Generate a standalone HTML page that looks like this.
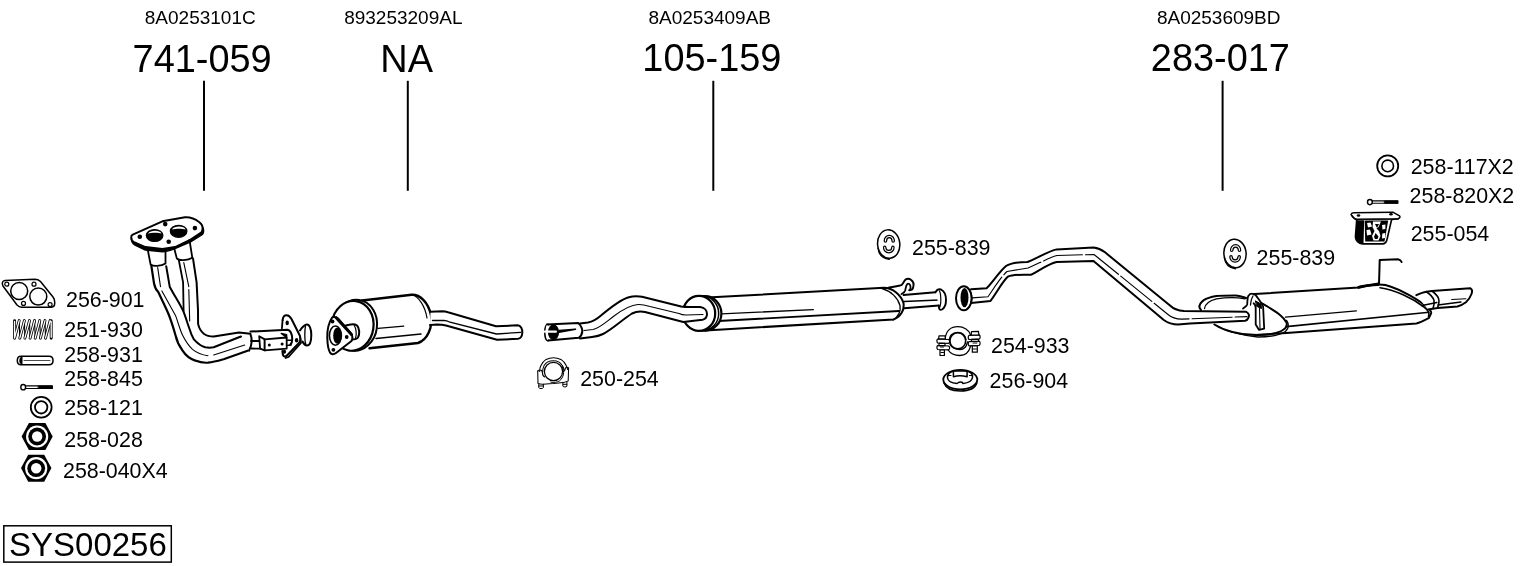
<!DOCTYPE html>
<html><head><meta charset="utf-8">
<style>
html,body{margin:0;padding:0;background:#fff;width:1530px;height:566px;overflow:hidden}
svg{display:block;will-change:transform}
text{font-family:"Liberation Sans",sans-serif;fill:#000}
.s{font-size:19px}
.b{font-size:37.9px}
.l{font-size:21.4px}
</style></head><body>
<svg width="1530" height="566" viewBox="0 0 1530 566">
<g text-anchor="middle">
<text class="s" x="200.25" y="23.9">8A0253101C</text>
<text class="b" x="202.15" y="71.6">741-059</text>
<text class="s" x="403.3" y="23.9">893253209AL</text>
<text class="b" x="406.6" y="72">NA</text>
<text class="s" x="709.75" y="23.9">8A0253409AB</text>
<text class="b" x="711.85" y="71.4">105-159</text>
<text class="s" x="1218.7" y="23.9">8A0253609BD</text>
<text class="b" x="1220.4" y="71.4">283-017</text>
</g>
<g stroke="#000" stroke-width="2" fill="none">
<line x1="204" y1="80.8" x2="204" y2="190.8"/>
<line x1="407.8" y1="80.8" x2="407.8" y2="190.8"/>
<line x1="713.3" y1="80.8" x2="713.3" y2="190.8"/>
<line x1="1222.6" y1="80.8" x2="1222.6" y2="190.8"/>
</g>
<g>
<text class="l" x="66" y="306.5">256-901</text>
<text class="l" x="64.3" y="336.8">251-930</text>
<text class="l" x="64.3" y="361.7">258-931</text>
<text class="l" x="64.3" y="386">258-845</text>
<text class="l" x="64.3" y="414.7">258-121</text>
<text class="l" x="64.3" y="446.9">258-028</text>
<text class="l" x="63" y="478.4">258-040X4</text>
<text class="l" x="580.2" y="385.7">250-254</text>
<text class="l" x="912" y="255">255-839</text>
<text class="l" x="991" y="352.9">254-933</text>
<text class="l" x="989.6" y="387.6">256-904</text>
<text class="l" x="1256.6" y="264.8">255-839</text>
<text class="l" x="1410.7" y="173.9">258-117X2</text>
<text class="l" x="1409.6" y="203">258-820X2</text>
<text class="l" x="1410.7" y="240.7">255-054</text>
</g>
<rect x="3.8" y="525.8" width="167.5" height="36.3" fill="none" stroke="#000" stroke-width="1.5"/>
<text x="9" y="556" style="font-size:33px">SYS00256</text>

<g fill="none" stroke="#000" stroke-linecap="round" stroke-linejoin="round">
<!-- flange thickness (black) -->
<path d="M131.3,237.5 C131,241 132,243.5 135,245 L145.4,250 L162.4,251.8 C167,251.6 171,250 175,248.6 L190.6,241.8 L202.5,234.5 C204,232 204,229.5 202.6,227 L201.5,232 L190.6,239.2 L175.1,246.8 L162.4,248.8 L145.4,246.8 L134,241.8 Z" fill="#000" stroke-width="1.4"/>
<!-- flange top face -->
<path d="M131.3,237.5 C131,236 131.5,235.3 132.7,234.7 L162.4,221.3 L185,217.3 C190,217 195,218.8 199.1,222 C201,223.5 202.6,225 202.6,227.5 C202.6,230 202,231.5 201.5,232.3 L190.6,239.5 L175.1,247 L162.4,249 L145.4,247 L134,242 C132,241 131.3,239 131.3,237.5 Z" fill="#fff" stroke-width="1.9"/>
<!-- holes -->
<ellipse cx="154.6" cy="235.5" rx="8.3" ry="6" fill="#000" stroke-width="1.2"/>
<path d="M148,233.8 C149.3,231.6 152,230.8 155,230.8 C158,230.8 160.8,231.8 161.5,233.6 C158.5,232.6 151,232.6 148,233.8 Z" fill="#fff" stroke="none"/>
<ellipse cx="178.6" cy="231.3" rx="8.3" ry="6" fill="#000" stroke-width="1.2"/>
<path d="M172,229.6 C173.3,227.4 176,226.6 179,226.6 C182,226.6 184.8,227.6 185.5,229.4 C182.5,228.4 175,228.4 172,229.6 Z" fill="#fff" stroke="none"/>
<circle cx="139.8" cy="236.8" r="2.3" fill="#000" stroke="none"/>
<circle cx="165.2" cy="224.1" r="2.3" fill="#000" stroke="none"/>
<circle cx="194.9" cy="228.1" r="2.3" fill="#000" stroke="none"/>
<circle cx="168.7" cy="241.8" r="2.3" fill="#000" stroke="none"/>
<!-- collars -->
<path d="M147.8,250 L150.6,264.5 C153,266.5 161,266.5 165.5,263.5 L165.5,250" stroke-width="1.8"/>
<path d="M174,247.5 L176.8,258.4 C179,261 188,260.5 192.3,257.7 L189.5,240" stroke-width="1.8"/>
<!-- pipe A left outer edge -->
<path d="M151.3,265.5 L154.1,283.8 C155,288 157,291 158.4,292.3 C162,300 166,308 168.5,314 C171,320 174,330 175.5,335.2 C177,342 180,347 182.6,350.7 C186,356 190,359 195.3,360.6 C200,362.5 204,363 208,362.7 C214,362 219,360.5 223.6,359.2 L247.6,350.7" stroke-width="2.2"/>
<!-- pipe A right edge / crease -->
<path d="M166.2,266.2 L169.7,286.7 C174,295 180,304 183.3,311.2 C186,318 188,325 189.7,329.5 C191,334 192.5,337 193.9,339.4 C197,343 201,346 205.2,347.2 C208,347.8 211,347.8 213.7,347.2 L239,337.3 L241,336.5" stroke-width="2"/>
<!-- pipe B left edge -->
<path d="M178.9,260.5 L183.1,282.4 L183.6,311" stroke-width="1.8"/>
<!-- pipe B right edge -->
<path d="M193,258.4 L196.6,282.4 L198,310 L198.1,323.9 C199,328 201,331.5 203.8,333.8 C206,335.5 210,336.6 213.7,336.6 L239,332.4 L250.4,333.8 C252,338 252,345 249,350.7" stroke-width="2"/>
<!-- highlights -->
<path d="M157.7,267.6 L160.5,286.7 M161.9,290.9 L175.5,315.4 C178,322 180,330 182.6,335.2 C186,342 189,346 192.5,349.3 C197,353 203,355 208,355.7 M213.7,355 L244.7,345.1" stroke-width="1.1"/>
<path d="M183.8,262.6 L188.8,286.7 M188.8,289.5 L189.7,321" stroke-width="1.1"/>
<path d="M230,341 C234,339 238,337 240,337" stroke-width="1.2"/>
<!-- small pipe / bracket -->
<path d="M251,341 L259.2,341 M251.5,348.5 L260.1,348.6" stroke-width="1.8"/>
<path d="M250.5,331.6 L287.6,329.7 C290.5,330.5 292,334 292.2,338.5 C292.3,341 291.5,343.5 290.4,344.5" fill="#fff" stroke-width="2"/>
<path d="M259.2,336.2 L264.7,339.4 L264.7,350.4 L260.1,348.6 Z" fill="#fff" stroke-width="1.8"/>
<path d="M264.7,339.4 L286.7,337.5 L286.7,348.6 L264.7,350.4 Z" fill="#fff" stroke-width="1.8"/>
<path d="M281.2,333.4 L286.7,334.5 L286.7,337.5 Z" fill="#000" stroke-width="1.2"/>
<path d="M286.7,340.3 L291.3,340.3 M286.7,345.4 L291.3,344.9" stroke-width="1.5"/>
<circle cx="269.3" cy="344.9" r="1.5" fill="#000" stroke="none"/>
<circle cx="282.1" cy="344" r="1.5" fill="#000" stroke="none"/>
<!-- flange -->
<path d="M282.6,320.1 C283,316 285,315 287,315.3 C289,315.5 290,316.5 291.5,319 L300,336 C301,338.5 300.5,341.5 298.5,343.5 L287,355.5 C285.5,357 283.5,357.2 282.8,354.5 L282.4,351" stroke-width="2"/>
<path d="M282.6,320.1 L281.9,328.4" stroke-width="1.8"/>
<path d="M300,337 L301,343 L288.5,357 L285.5,358" stroke-width="1.8"/>
<ellipse cx="287.2" cy="322.9" rx="1.7" ry="2.3" fill="#000" stroke="none"/>
<ellipse cx="296.6" cy="340.3" rx="1.7" ry="2.3" fill="#000" stroke="none"/>
<ellipse cx="284.4" cy="351.8" rx="1.7" ry="2" fill="#000" stroke="none"/>
<!-- end flare -->
<path d="M300,330.5 C302,327.5 304,325 306.5,324.5 C309.5,324 311.3,329 311.3,335 C311.3,341 309.8,345.5 307,345.5 C305,345.5 303.5,343.5 302.5,341.5" fill="#fff" stroke-width="2"/>
<path d="M305.5,326 C304.5,331 304.5,340 305.8,344.5" stroke-width="1.3"/>
</g>

<g fill="none" stroke="#000" stroke-linecap="round" stroke-linejoin="round">
<!-- body -->
<path d="M362,300.5 L411.7,294.8 C420,294.5 428,302 431,315 C433,328 427,340 418,343 L369.5,348.3" fill="#fff" stroke-width="2.4"/>
<path d="M378,328.3 L403.8,326.1" stroke-width="1.2"/>
<path d="M376,338.5 L421,334" stroke-width="1.5"/>
<path d="M411.7,294.3 C419,297 425,306 427,318" stroke-width="1.2"/>
<!-- front face rim (double ellipse) -->
<ellipse cx="355.5" cy="325.3" rx="21.5" ry="25.5" transform="rotate(8 355.5 325.3)" fill="#fff" stroke-width="2"/>
<ellipse cx="352.5" cy="325.8" rx="21" ry="25" transform="rotate(8 352.5 325.8)" fill="#fff" stroke-width="2.2"/>
<!-- stub pipe -->
<path d="M344,326 L349,324.8 C352,324 355,324 357,325.5 C359.5,328 360,334 358,337.5 C357,339 355,339.5 352,339.5 L346,340" fill="#fff" stroke-width="2"/>
<path d="M354,325 C356,328 357,334 355.5,338.5" stroke-width="1.2"/>
<!-- triangular flange -->
<path d="M332.1,317.5 C334,316.3 336,317 338,318.5 L350.5,333 C352.5,335.5 353,338.5 351.5,341 L336,353 C333.5,355 331,354.5 330,352.5 C328.5,350 327.5,345 327.3,338 C327,330 328.5,323 332.1,317.5 Z" fill="#fff" stroke-width="2"/>
<path d="M336,317.5 L351.5,334.5" stroke-width="3"/>
<ellipse cx="335.4" cy="335.6" rx="6" ry="9.6" fill="#fff" stroke-width="1.6"/>
<ellipse cx="337.4" cy="335.6" rx="4.2" ry="8.2" fill="#000" stroke="none"/>
<circle cx="332.5" cy="321.5" r="1.9" fill="#000" stroke="none"/>
<circle cx="346.7" cy="337" r="1.9" fill="#000" stroke="none"/>
<circle cx="333.4" cy="349.8" r="1.9" fill="#000" stroke="none"/>
<!-- outlet pipe -->
<path d="M430.5,311.8 L442,311.3 C444.5,311.3 446,311.5 448,312.3 L496,326.3 L517.5,325.3 C521,325.3 522.5,329 522.3,333 C522,336.5 520.5,338.5 518,338.8 L497,339.7 L446,325.5 C443,324.8 440,324.6 437,324.6 L430,325" fill="#fff" stroke-width="2"/>
<path d="M432.5,320.5 L444,320.3 C446,320.5 447.5,321 449,321.8 L496.5,334 L520.8,332.3" stroke-width="1.3"/>
</g>

<g fill="none" stroke="#000" stroke-linecap="round" stroke-linejoin="round">
<!-- muffler body -->
<path d="M712,297.3 L883.8,287.8 C893,288 901,295 903.5,303 C904.5,310 901,316.5 893.5,319.5 L705.5,330.4" fill="#fff" stroke-width="2"/>
<path d="M721.4,313.9 L813.3,309.6" stroke-width="1.3"/>
<path d="M718.5,321 L899,311" stroke-width="1.8"/>
<path d="M882,288.5 C891,291 898,298 900,305.5 C901,312 898,317 893,320" stroke-width="1.3"/>
<!-- outlet pipe -->
<path d="M903.5,295 L935.5,292.3 M904,308.3 L939,305.5" stroke-width="1.9"/>
<path d="M904,301.5 L939,300" stroke-width="1.4"/>
<path d="M935.5,292.3 C937,289.5 939,289 941,289.5 C944,291 946,295 946,300 C946,304.5 944.5,308 942,309.5 C940,310.5 938.5,309.5 939,305.5" fill="#fff" stroke-width="1.9"/>
<path d="M939.5,291 C941,294 941.5,304 939.5,308" stroke-width="1.2"/>
<!-- hanger hook -->
<path d="M889,287.5 C894,286.5 899,286 901.8,284.8 C903.5,283.5 904,280.5 905.8,279.3 C907.5,278.5 909.5,278.7 911,279.8 C913.5,281.5 914,285 913,288 C912.5,289.5 911,290.3 909.2,290.3" stroke-width="2"/>
<path d="M901.5,294 C903.5,293 904.8,292 905.2,290.5 C905.8,287.5 906,285 907.3,284 C908.8,283 910.3,284.5 910.5,286.5 C910.7,288 910.5,289 910,289.5" stroke-width="1.8"/>
<!-- front ring -->
<ellipse cx="705" cy="313.4" rx="16.4" ry="17.2" fill="#fff" stroke-width="2.2"/>
<ellipse cx="702.5" cy="313.4" rx="16.2" ry="17.3" fill="#fff" stroke-width="1.5"/>
<ellipse cx="699" cy="313.4" rx="16.2" ry="17.5" fill="#fff" stroke-width="2.2"/>
<!-- pipe -->
<path d="M580,323.5 L588,322.5 C593,321.5 597,319 601,315.5 C610,308 620,300 628,297.5 C633,296 638,296 642,296.8 L681.2,306.5 C684,307 687,307 690,307 L700.3,307 C704.5,307.5 707,310.5 707,314 C707,317 705.5,319 702.5,319.8 L683.3,322 L645,312 C640,311 636,311.5 632,313.5 C622,320 611,330 603,334 C600,335.5 596,336.5 592,337 L580,338.5" fill="#fff" stroke-width="2"/>
<path d="M584,330.5 L593,329.5 C600,328 606,322 614,316 C622,310 630,305 638,304.5 C642,304.3 645,305 650,306.5 L679,313.5 C681,314.5 683,315 686,315 L703,314.5" stroke-width="1.1"/>
<!-- sleeve -->
<path d="M546.9,324.5 L578.2,323 C581.5,325.5 582.5,330 582.3,331.5 C582,334 581,336.5 578.7,337.8 L548,340.5" fill="#fff" stroke-width="2"/>
<path d="M548,324.5 C544,325 544,340 548,340.5" fill="#fff" stroke-width="2"/>
<ellipse cx="553.5" cy="332.3" rx="5.6" ry="7.8" fill="#000" stroke="none"/>
<path d="M547,326 C546,330 546,335 547.5,339" stroke="#fff" stroke-width="1.5"/>
<path d="M559,330.5 L575.5,329.3 L559,332.3 Z" fill="#000" stroke="#000" stroke-width="1.5"/>
<path d="M544.8,331.7 L555.9,331.7" stroke="#fff" stroke-width="2.2"/>
</g>

<g fill="none" stroke="#000" stroke-linecap="round" stroke-linejoin="round">
<!-- intermediate pipe -->
<path d="M971,289.3 L986.6,288.3 C993,282 999,272 1006,266 C1012,262 1020,262 1027.4,262 C1036,259 1046,252 1056.6,249.4 L1093.5,247.5 C1099,248 1102,250 1105,252.3 L1170,305.5 C1173,308.5 1177,310.5 1184,311 L1246.2,311.8 C1249,313 1249.5,316 1248.3,318 C1247.5,319.8 1246.5,320.5 1245.1,320.8 L1190,323.6 L1178,324.5 C1172,324.5 1168,323 1163.8,320 L1093.5,261.1 L1056.6,262 C1048,264 1040,270 1031.3,274.7 C1022,274.7 1014,274 1008,276.6 C1002,282 996,294 990.5,300.9 L971,302.9" fill="#fff" stroke-width="2"/>
<path d="M972,297.9 L988,296.7 C994,288 1000,278 1007,271.5 L1028,268 C1038,264 1048,258 1057,255.5 L1094,254.5 L1168,314.5 C1172,318 1176,319.2 1182,319.1 L1247,316.6" stroke-width="1.1" stroke-dasharray="40 3"/>
<!-- inlet flare -->
<ellipse cx="963.8" cy="298.3" rx="7.8" ry="12" fill="#fff" stroke-width="2"/>
<ellipse cx="964.5" cy="297.6" rx="4" ry="9.6" fill="#000" stroke="none"/>
<path d="M967,287.5 C970.5,290 972,295 971.8,299 C971.6,303 970,307 966.5,309.5" stroke-width="1.5"/>
<!-- rear muffler body -->
<path d="M1250.4,294.3 L1358.5,287.4 C1365,286 1372,285 1378.3,284.6 C1384,284.5 1388,285.5 1391,286.7 C1398,289 1404,292 1409.3,295.2 C1416,299 1422,302.5 1426.3,306.5 C1429,309 1431.5,311 1431.2,313 C1430.5,315.5 1429,317 1429.1,317.8 C1424,320.5 1420,322.5 1416.4,323.5 L1286.4,333 L1255,335" fill="#fff" stroke-width="2"/>
<path d="M1358.5,287.4 C1365,285.5 1372,284.8 1378.3,284.6" stroke-width="2.8"/>
<path d="M1380,287.8 C1395,290 1412,298 1424,307 C1428,310 1430,313 1428.5,316.5" stroke-width="1.6"/>
<path d="M1285.4,317.1 L1356.4,310.8" stroke-width="1.2"/>
<path d="M1286.4,326.6 L1429.1,312.2" stroke-width="1.6"/>
<!-- back arc of front ellipse (double rim) -->
<path d="M1246.2,298 C1240,295.6 1236,295.4 1235.6,295.4 C1228,295.4 1221,295.5 1216.5,295.9 C1210,297 1206,298.5 1203.8,300.1 C1200.5,302.5 1199,305 1199.5,307.6 L1201,310" stroke-width="2"/>
<path d="M1204.5,308.5 C1205,304.5 1208,301 1216.5,298.8 C1226,297.5 1236,297.2 1245,298.8" stroke-width="1.3"/>
<!-- lower arc of front ellipse -->
<path d="M1214.4,324.5 C1220,328 1226,330.5 1232.4,331.9 C1240,334 1249,335.2 1257.8,335.1 C1268,335 1278,333.5 1283.3,329.8 C1286.5,327.5 1287.5,325 1286.4,322.4 C1285,319.5 1283,317.5 1280,315 C1276,311.5 1271,309 1267.4,306.5 C1264,304.5 1262,303.3 1260,302.3" stroke-width="2"/>
<path d="M1218,326.5 C1226,331 1240,335 1257.8,337 C1270,337 1280,335 1285.5,331.5 C1289,328.5 1289,324 1286.5,320.5" stroke-width="1.4"/>
<!-- strap -->
<path d="M1243,308.6 C1245,307 1247,306 1247.2,304.4 C1247.5,300 1247.5,297.5 1248.3,295.9 C1249.5,294 1251,293.5 1252.5,293.8 C1255,294 1256.5,295.5 1257.8,298 C1260,301 1262,303.5 1263.1,306.5 L1264.2,328.7 L1258.9,329.8 L1255.7,324.5 L1255.7,307.6 C1255.5,305.5 1254.5,304 1253.6,303.3" fill="#fff" stroke-width="1.8"/>
<path d="M1250.5,305 C1251,300 1252,297.5 1253,296" stroke-width="1.3"/>
<path d="M1255.7,301 L1261,304 L1261.5,308.5 L1257,306.5 Z" fill="#000" stroke-width="1"/>
<path d="M1259.5,308 L1260,328.5" stroke-width="1.1"/>
<!-- hanger -->
<path d="M1359,287 C1366,285.5 1374,285 1379,283.2 C1379.3,276 1379.5,268 1379.7,259.9 L1398,259.2 C1399.5,259.5 1401,260.5 1401.6,262" stroke-width="2"/>
<!-- tailpipe -->
<path d="M1416.4,295.2 C1420,293.5 1423,292.2 1426.3,291.7 L1432,291 L1470.1,288.2 C1472.5,289.5 1472.5,291.5 1471.5,294 C1470,298 1468,300.5 1465.9,302.3 C1463,304.5 1460,306 1457.4,306.5 L1437.6,307.9 L1428,309.5" fill="#fff" stroke-width="2"/>
<path d="M1426.3,291.7 C1430,294 1433,297 1434,300.5 C1434.5,303.5 1434,306 1433,308.5" stroke-width="1.6"/>
<path d="M1432,291 C1436,294 1439,297.5 1439,300.9 C1439,303 1438.5,305.5 1437.6,307.5" stroke-width="1.6"/>
<path d="M1422,305.5 L1437,302.5 M1438,305 L1461,302" stroke-width="1.3"/>
<path d="M1451.7,299.5 L1465.9,298.7" stroke-width="1.1"/>
</g>

<g fill="none" stroke="#000" stroke-linecap="round" stroke-linejoin="round">
<!-- gasket 256-901 -->
<path d="M5,280.5 L34.6,279.3 C37,279.3 39,280 40.5,281.5 L53,297 C54.5,299 55,302 54.5,305 C54,306.5 53,307.2 51,307.2 L21.5,307.2 C19.5,307.2 18.5,306.5 17,305 L3,286 C1.5,283.5 2.5,280.6 5,280.5 Z" stroke-width="1.5"/>
<circle cx="19.2" cy="291" r="8.5" stroke-width="1.5"/>
<circle cx="38.3" cy="296.6" r="8.5" stroke-width="1.5"/>
<circle cx="6.8" cy="284.2" r="2" stroke-width="1.2"/>
<circle cx="34" cy="284.2" r="2" stroke-width="1.2"/>
<circle cx="23.5" cy="303.4" r="2" stroke-width="1.2"/>
<circle cx="50.1" cy="304.6" r="2" stroke-width="1.2"/>
<!-- spring 251-930 -->
<path d="M14.6,320.6 L14.6,338.2 M19.2,320.6 L19.8,338.2 M24.4,320.6 L24.9,338.2 M29.5,320.6 L30.0,338.2 M34.6,320.6 L35.2,338.2 M39.8,320.6 L40.4,338.2 M45.0,320.6 L45.5,338.2 M50.1,320.6 L50.6,338.2 M51.2,320.6 L51.2,338.2" stroke-width="1.1"/>
<path d="M14.6,338.2 L19.2,320.6 M19.8,338.2 L24.4,320.6 M24.9,338.2 L29.5,320.6 M30.1,338.2 L34.6,320.6 M35.2,338.2 L39.8,320.6 M40.4,338.2 L45.0,320.6 M45.5,338.2 L50.1,320.6 M14.6,320.6 L14.6,338.2 M51.2,320.6 L51.2,338.2" stroke-width="2.9"/>
<path d="M14.6,338.2 L19.2,320.6 M19.8,338.2 L24.4,320.6 M24.9,338.2 L29.5,320.6 M30.1,338.2 L34.6,320.6 M35.2,338.2 L39.8,320.6 M40.4,338.2 L45.0,320.6 M45.5,338.2 L50.1,320.6 M14.6,321.5 L14.6,337.3 M51.2,321.5 L51.2,337.3" stroke="#fff" stroke-width="1.3"/>
<!-- sleeve 258-931 -->
<path d="M21,356.3 L49,356.3 C52,356.3 53,358 53,360.5 C53,363 52,364.8 49,364.8 L21,364.8 C18.5,364.8 17.3,363 17.3,360.5 C17.3,358 18.5,356.3 21,356.3 Z" stroke-width="1.5"/>
<path d="M21,357 C19,357.5 18.5,363.5 21,364 L22.5,364 L22.5,357 Z" fill="#000" stroke="none"/>
<path d="M24,360.5 L50,360.5" stroke-width="0.7"/>
<!-- bolt 258-845 -->
<ellipse cx="23.2" cy="387.2" rx="2.4" ry="2.7" stroke-width="1.4"/>
<path d="M25.6,385.9 L52.3,385.9 M25.6,388.5 L52.3,388.5" stroke-width="1.1"/>
<path d="M38.5,386 L52.5,386 L52.5,388.4 L38.5,388.4 Z" fill="#000" stroke-width="0.9"/>
<!-- washer 258-121 -->
<circle cx="41.2" cy="407.3" r="10.4" stroke-width="1.8"/>
<circle cx="41.2" cy="407.3" r="6.2" stroke-width="1.8"/>
<!-- nut 258-028 -->
<path d="M21.6,436.4 L28.9,422.9 L45.4,422.9 L52.7,436.4 L45.4,450.1 L28.9,450.1 Z" fill="#000" stroke="none"/>
<circle cx="37.15" cy="436.5" r="11.1" fill="#fff" stroke="none"/>
<circle cx="37.15" cy="436.5" r="8.9" fill="#000" stroke="none"/>
<circle cx="37.15" cy="436.5" r="5.2" fill="#fff" stroke="none"/>
<!-- nut 258-040X4 -->
<path d="M21,468 L28.2,454.7 L44.2,454.7 L51.4,468 L44.2,481.8 L28.2,481.8 Z" fill="#000" stroke="none"/>
<circle cx="36.2" cy="468.2" r="11.1" fill="#fff" stroke="none"/>
<circle cx="36.2" cy="468.2" r="8.9" fill="#000" stroke="none"/>
<circle cx="36.2" cy="468.2" r="5.2" fill="#fff" stroke="none"/>
<!-- clamp 250-254 -->
<path d="M539.7,371.5 C539.5,369 540,367.5 540.7,366.1 C542,362.5 543.5,361 546.1,359.4 C548.5,358.2 551,357.7 553.5,357.7 C556,357.7 558.5,358.3 560.9,359.4 C563.5,361 565,363 566.2,365.4 C567,367 567.5,368.2 567.6,369.4" stroke-width="1.1"/>
<path d="M542.7,372.1 C542.7,369.5 543.2,367.3 544.1,365.4 C546,362.2 549.5,360.7 553.5,360.7 C557.5,360.7 560.5,362.5 562.2,365.4 C563.3,367 563.9,368.5 564.2,370.1" stroke-width="1.05"/>
<path d="M537.7,371.1 C539,370 540.5,369.8 541.8,370.5 L542.5,373 C542.5,375 543,376.5 545,377" stroke-width="1.05"/>
<path d="M568.6,368 C567.5,367.3 566,367.3 565.5,368 L564.5,371" stroke-width="1.05"/>
<path d="M537.7,371.1 L538,383.5 C540,384.2 542,384.3 543.4,384.2 C547,383.8 550,383.5 553.5,383.5 C557,383.3 561,382.8 564.2,382.2 C566,381.8 567.5,381.3 568.2,380.9 L568.6,368" stroke-width="1.05"/>
<circle cx="553.5" cy="371.5" r="9.1" fill="#fff" stroke-width="1.25"/>
<path d="M562.2,366.5 C563.5,369 563.8,372 563.5,374.1 C562.8,377 561.5,379.3 559.5,380.9 C557,382.3 554,382.8 550.8,382.2" stroke-width="1"/>
<path d="M538.8,384.3 L538.7,387.6 C539.5,388.9 542.5,388.9 543.4,387.6 L543.4,384.2 M539,386 L543,386" stroke-width="1"/>
<path d="M562.9,382.3 L562.9,386.2 C563.8,387.2 566,387.2 566.9,386.2 L566.9,381.6 M563,384.3 L566.8,384.3" stroke-width="1"/>
<!-- rubber 255-839 a -->
<ellipse cx="888.7" cy="244.1" rx="11.1" ry="14.3" transform="rotate(-6 888.7 244.1)" stroke-width="1.5"/>
<path d="M878.0,248.1 C878.7,254.1 882.2,258.6 889.2,259.4" stroke-width="1.3"/>
<path d="M885.4,240.9 A3.9,4.4 0 0 1 893.2,240.9 M884.7,247.4 A4.1,4.2 0 0 0 892.9,247.4" stroke-width="3.6"/>
<path d="M885.4,240.9 A3.9,4.4 0 0 1 893.2,240.9 M884.7,247.4 A4.1,4.2 0 0 0 892.9,247.4" stroke="#fff" stroke-width="1.2"/>
<!-- rubber 255-839 b -->
<ellipse cx="1235" cy="253.5" rx="11.1" ry="14.3" transform="rotate(-6 1235 253.5)" stroke-width="1.5"/>
<path d="M1224.3,257.5 C1225.0,263.5 1228.5,268.0 1235.5,268.8" stroke-width="1.3"/>
<path d="M1231.7,250.3 A3.9,4.4 0 0 1 1239.5,250.3 M1231.0,256.8 A4.1,4.2 0 0 0 1239.2,256.8" stroke-width="3.6"/>
<path d="M1231.7,250.3 A3.9,4.4 0 0 1 1239.5,250.3 M1231.0,256.8 A4.1,4.2 0 0 0 1239.2,256.8" stroke="#fff" stroke-width="1.2"/>
<!-- clamp 254-933 -->
<path d="M945.1,338.8 C946,331 951,326.7 957.8,326.7 C964,326.7 969,330 970.6,334.7" stroke-width="1.3"/>
<path d="M949.2,343 C949,335 952.5,332.3 957.8,332.3 C962,332.3 965,334.5 966,339.5" stroke-width="1.3"/>
<path d="M947.8,349.5 C950,353 955,355.5 959.8,355.5 C965,355.5 969,352 970.6,346.1" stroke-width="1.3"/>
<path d="M950,344.5 C952,348 956,349.5 960,349.5 C964,349.5 966.5,347 967.5,342" stroke-width="1.3"/>
<ellipse cx="957.8" cy="340.8" rx="7.9" ry="8" stroke-width="1.6"/>
<path d="M937.7,339 L948.6,339.5 C950,340.5 950,342.5 948.6,343.3 L937.7,343 C936.6,342 936.6,340 937.7,339 Z" fill="#fff" stroke-width="1.2"/>
<path d="M937.7,345.5 L948.6,346 C950,347 950,349 948.6,349.8 L937.7,349.5 C936.6,348.5 936.6,346.5 937.7,345.5 Z" fill="#fff" stroke-width="1.2"/>
<path d="M939,335.8 L945,335.8 L945.5,338.8 L938.6,338.8 Z M939,343.2 L945,343.4 L945,345.7 L939,345.6 Z M940,350 L944.4,350 L944.4,355.5 L940,355.5 Z" fill="#fff" stroke-width="1.2"/>
<path d="M940.5,347 L943.5,347 M941,352.5 L943.5,352.5" stroke-width="1"/>
<path d="M969,335.3 L979.3,334.8 C980.4,335.8 980.4,338 979.3,339 L969,339.5 C968,338.5 968,336.3 969,335.3 Z" fill="#fff" stroke-width="1.2"/>
<path d="M969,341.6 L979.3,341.1 C980.4,342.1 980.4,344.3 979.3,345.3 L969,345.8 C968,344.8 968,342.6 969,341.6 Z" fill="#fff" stroke-width="1.2"/>
<path d="M971.5,331.6 L978.5,331.4 L978.8,334.8 L971.2,335 Z M971.5,339.4 L978.5,339.2 L978.5,341.2 L971.5,341.4 Z M972.3,346 L977.3,345.8 L977.3,352.2 L972.3,352.2 Z" fill="#fff" stroke-width="1.2"/>
<path d="M973,343 L977,343 M973,349 L976.5,349" stroke-width="1"/>
<!-- gasket 256-904 -->
<ellipse cx="960.3" cy="379.6" rx="17" ry="9.8" stroke-width="1.8"/>
<path d="M944,383 C946,388.5 953,391 960.3,391 C968,391 975,388.5 976.8,383" stroke-width="1.6"/>
<path d="M947.5,378 C947,373.5 951,371.3 955,371 L965,371 C970,371.3 973,373.5 972.5,377.5 C972,381 967,383 963,383.5 L962,382.3 C961,382 959.5,382 958.5,382.5 L957,383.5 C953,383.2 948,381.5 947.5,378 Z" stroke-width="1.5"/>
<path d="M953.4,372 L953.4,376.7 C957,375.6 963,375.6 967.1,376.7 L967.1,372" stroke-width="1.5"/>
<path d="M948,375.5 L951,375.5 M969.5,375.5 L972,375.5" stroke-width="1.1"/>
<!-- washer 258-117X2 -->
<circle cx="1387.7" cy="165.9" r="10.5" stroke-width="1.8"/>
<circle cx="1387.7" cy="165.9" r="5.8" stroke-width="1.6"/>
<!-- bolt 258-820X2 -->
<ellipse cx="1369.9" cy="202.1" rx="2.4" ry="2.6" stroke-width="1.4"/>
<path d="M1372.3,200.9 L1397.9,200.9 M1372.3,203.3 L1397.9,203.3" stroke-width="1.1"/>
<path d="M1384.7,201 L1398,201 L1398,203.2 L1384.7,203.2 Z" fill="#000" stroke-width="0.9"/>
<!-- mount 255-054 -->
<path d="M1351,214.5 C1351.5,213.3 1352.5,212.8 1354,212.8 L1392.8,212.2 L1399.5,215.8 C1400.5,216.8 1400,218 1398.1,218.7 L1357.1,219.2 C1354.5,219 1352,216.5 1351,214.5 Z" fill="#fff" stroke-width="1.5"/>
<path d="M1352,215.5 C1353.5,218 1355.5,219.8 1357.5,220.3 L1392,219.6 L1398.5,218.8" stroke-width="1.4"/>
<path d="M1356.7,220 L1355.4,237 C1355.6,240.5 1358.5,243.5 1362.4,243.9 L1383,243.9 C1385.5,243.5 1386.5,242 1387,239.5 L1391.5,220" fill="#fff" stroke-width="1.6"/>
<path d="M1356.7,220.3 L1364.2,220.3 L1363.5,243.8 L1362.4,243.8 C1358.5,243.5 1355.6,240.5 1355.4,237 Z" fill="#000" stroke="none"/>
<path d="M1364.7,220.6 L1388.2,220.6 L1384.5,241.5 L1365.2,241.5 Z" fill="#000" stroke="none"/>
<path d="M1367,223 L1370.5,222.5 L1372,226.5 L1368,227.5 Z" fill="#fff" stroke="none"/>
<path d="M1366.5,230 L1370,229.5 L1371.5,234.5 L1367,235.5 Z" fill="#fff" stroke="none"/>
<path d="M1373,221.5 L1381,221.5 L1378.5,227 L1376.5,228.5 L1379,231 L1380.5,236 L1378.5,240.5 L1373.5,240.5 L1372,236 L1374.5,231 L1372.5,227 Z M1375,224 L1377,228 L1379,224 Z M1375.5,233 L1374,237 L1375,239 L1377.5,239 L1378.5,236.5 Z" fill="#fff" fill-rule="evenodd" stroke="none"/>
<path d="M1382,225 L1385.5,224.5 L1385.3,229 L1382.5,229.5 Z" fill="#fff" stroke="none"/>
<path d="M1382.3,233.5 L1385.2,233 L1385,238 L1382,238.5 Z" fill="#fff" stroke="none"/>
<ellipse cx="1358.5" cy="215.5" rx="1.8" ry="1.2" fill="#000" stroke="none"/>
<ellipse cx="1391" cy="214.3" rx="1.8" ry="1.2" fill="#000" stroke="none"/>
</g>

</svg>
</body></html>
